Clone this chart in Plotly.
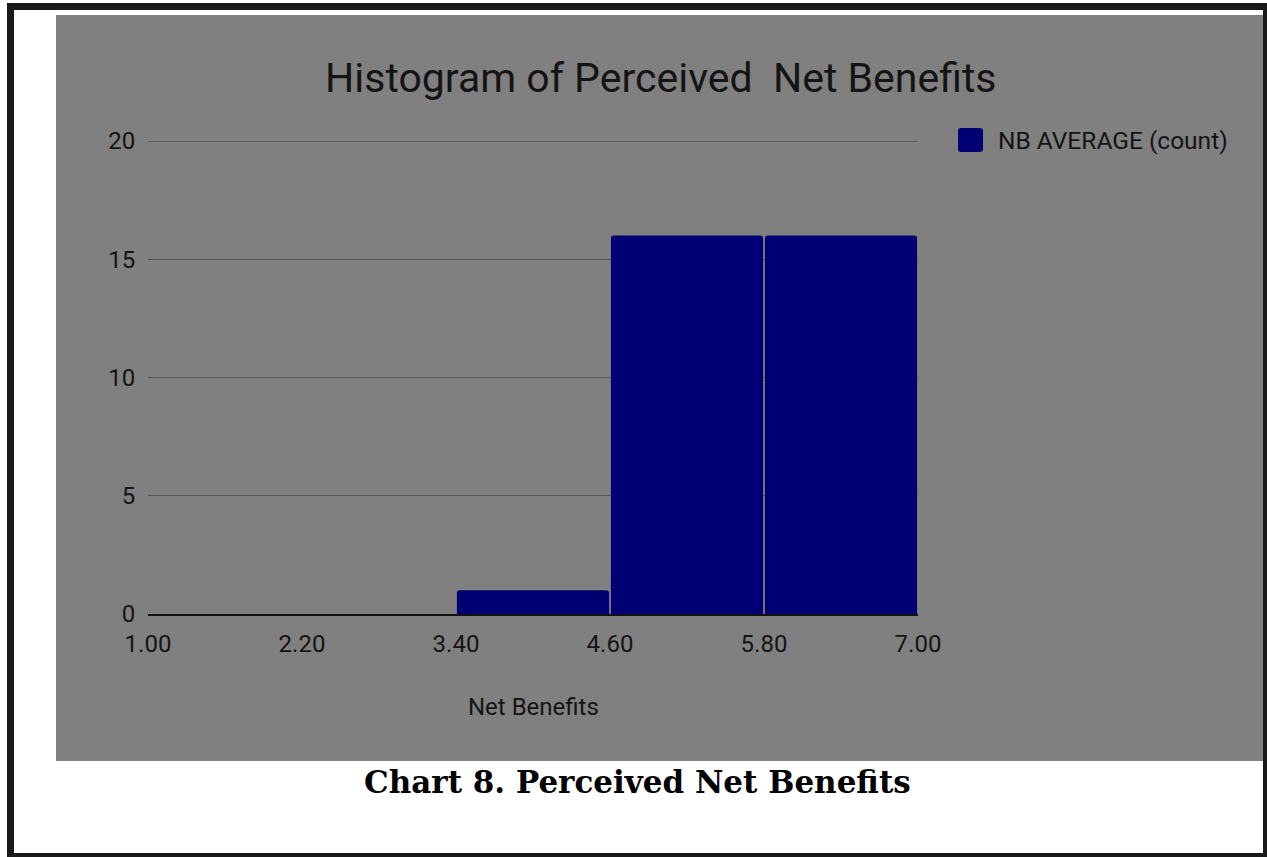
import plotly.graph_objects as go

# Histogram data: bin edges and the count in each bin
bin_edges = [1.00, 2.20, 3.40, 4.60, 5.80, 7.00]
bin_counts = [0, 0, 1, 16, 16]
series_name = "NB AVERAGE (count)"
y_ticks = [0, 5, 10, 15, 20]

chart_title = "Histogram of Perceived  Net Benefits"
x_title = "Net Benefits"
caption = "Chart 8. Perceived Net Benefits"

W, H = 1267, 857
# plot area in pixels
L, R, T, B = 148, 918, 141, 614
PW, PH = R - L, B - T

BAR = "#000072"
PANEL = "#808080"
INK = "#141414"
GRID = "#555555"


def px(x):
    return (x - L) / PW


def py(y):
    return (B - y) / PH


centers = [(a + b) / 2 for a, b in zip(bin_edges[:-1], bin_edges[1:])]
widths = [(b - a) - 0.014 for a, b in zip(bin_edges[:-1], bin_edges[1:])]

fig = go.Figure()
fig.add_trace(go.Bar(
    x=centers, y=bin_counts, width=widths,
    marker=dict(color=BAR, line=dict(width=0)),
    name=series_name, showlegend=False,
))

shapes = []
# page frame
shapes.append(dict(type="rect", xref="paper", yref="paper", layer="below",
                   x0=px(7), x1=px(1267), y0=py(3), y1=py(857),
                   fillcolor="#1a1a1a", line=dict(width=0)))
shapes.append(dict(type="rect", xref="paper", yref="paper", layer="below",
                   x0=px(14), x1=px(1263), y0=py(10), y1=py(853),
                   fillcolor="white", line=dict(width=0)))
# chart panel
shapes.append(dict(type="rect", xref="paper", yref="paper", layer="below",
                   x0=px(56), x1=px(1263), y0=py(15), y1=py(761),
                   fillcolor=PANEL, line=dict(width=0)))
# top gridline sits on the edge of the plot area
shapes.append(dict(type="line", xref="paper", yref="y", layer="below",
                   x0=0, x1=1, y0=y_ticks[-1], y1=y_ticks[-1],
                   line=dict(color=GRID, width=1.3)))


def rounded_rect(x0, y0, x1, y1, r):
    # pixel box -> paper-coordinate path with rounded corners
    X = lambda v: f"{px(v):.5f}"
    Y = lambda v: f"{py(v):.5f}"
    return (f"M {X(x0 + r)},{Y(y0)} L {X(x1 - r)},{Y(y0)} Q {X(x1)},{Y(y0)} {X(x1)},{Y(y0 + r)} "
            f"L {X(x1)},{Y(y1 - r)} Q {X(x1)},{Y(y1)} {X(x1 - r)},{Y(y1)} "
            f"L {X(x0 + r)},{Y(y1)} Q {X(x0)},{Y(y1)} {X(x0)},{Y(y1 - r)} "
            f"L {X(x0)},{Y(y0 + r)} Q {X(x0)},{Y(y0)} {X(x0 + r)},{Y(y0)} Z")


# legend swatch
shapes.append(dict(type="path", xref="paper", yref="paper",
                   path=rounded_rect(958, 128, 983, 152, 3),
                   fillcolor=BAR, line=dict(width=0)))

annotations = [
    dict(text=chart_title, x=px(661), y=py(78), xref="paper", yref="paper",
         xanchor="center", yanchor="middle", showarrow=False,
         font=dict(family="Roboto", size=41, color=INK)),
    dict(text=series_name, x=px(996), y=py(140), xref="paper", yref="paper",
         xanchor="left", yanchor="middle", showarrow=False,
         font=dict(family="Roboto", size=24.5, color=INK)),
    dict(text=x_title, x=px(533), y=py(707), xref="paper", yref="paper",
         xanchor="center", yanchor="middle", showarrow=False,
         font=dict(family="Roboto", size=24, color=INK)),
    dict(text=f"<b>{caption}</b>", x=px(637), y=py(782), xref="paper", yref="paper",
         xanchor="center", yanchor="middle", showarrow=False,
         font=dict(family="DejaVu Serif", size=31, color="#000000")),
]

fig.update_layout(
    width=W, height=H,
    margin=dict(l=L, r=W - R, t=T, b=H - B, pad=0),
    paper_bgcolor="white", plot_bgcolor="rgba(0,0,0,0)",
    shapes=shapes, annotations=annotations,
    barcornerradius=3,
    showlegend=False,
    font=dict(family="Roboto", color=INK),
)
fig.update_xaxes(
    range=[bin_edges[0], bin_edges[-1]],
    tickvals=bin_edges, ticktext=[f"{v:.2f}" for v in bin_edges],
    tickfont=dict(size=24, color=INK),
    showgrid=False, zeroline=False,
    showline=True, linecolor="#111111", linewidth=2,
    ticks="outside", ticklen=7, tickcolor="rgba(0,0,0,0)",
)
fig.update_yaxes(
    range=[0, 20], tickvals=y_ticks,
    tickfont=dict(size=24, color=INK),
    showgrid=True, gridcolor=GRID, gridwidth=1.3,
    zeroline=False, showline=False,
    ticks="outside", ticklen=7, tickcolor="rgba(0,0,0,0)",
)

fig.write_html("out.html")
